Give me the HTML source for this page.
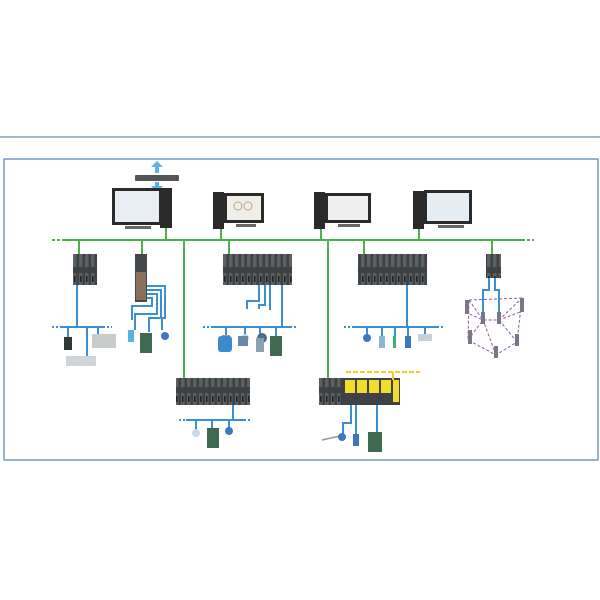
<!DOCTYPE html>
<html><head><meta charset="utf-8"><style>
html,body{margin:0;padding:0;background:#fff;width:600px;height:600px;overflow:hidden}
</style></head><body>
<svg width="600" height="600" viewBox="0 0 600 600" xmlns="http://www.w3.org/2000/svg">
<defs>
<pattern id="rk" width="6" height="30" patternUnits="userSpaceOnUse">
<rect width="6" height="30" fill="#3d4143"/><rect x="1" y="3" width="3.5" height="24" fill="#5b6062"/><rect x="2" y="6" width="1.5" height="6" fill="#222"/>
</pattern>
</defs>
<line x1="0" y1="137" x2="600" y2="137" stroke="#7aa3c8" stroke-width="1.5"/>
<rect x="4" y="159" width="594" height="301" fill="none" stroke="#4d7fb3" stroke-width="1.2"/>
<!-- green bus -->
<line x1="65" y1="240" x2="522" y2="240" stroke="#4cb050" stroke-width="2"/>
<line x1="52" y1="240" x2="65" y2="240" stroke="#4cb050" stroke-width="2" stroke-dasharray="3,2"/>
<line x1="522" y1="240" x2="534" y2="240" stroke="#4cb050" stroke-width="2" stroke-dasharray="3,2"/>
<g stroke="#4cb050" stroke-width="2">
<line x1="166" y1="228" x2="166" y2="240"/><line x1="221" y1="228" x2="221" y2="240"/>
<line x1="321" y1="228" x2="321" y2="240"/><line x1="419" y1="228" x2="419" y2="240"/>
<line x1="79" y1="240" x2="79" y2="255"/><line x1="142" y1="240" x2="142" y2="255"/>
<line x1="229" y1="240" x2="229" y2="255"/><line x1="364" y1="240" x2="364" y2="255"/>
<line x1="492" y1="240" x2="492" y2="255"/>
<line x1="184" y1="240" x2="184" y2="380"/><line x1="328" y1="240" x2="328" y2="380"/>
</g>
<!-- switch & arrows -->
<rect x="135" y="175" width="44" height="6" fill="#555" rx="1"/>
<path d="M157 161 l-6 6 h4 v6 h4 v-6 h4z" fill="#5ab4e6"/>
<path d="M157 192 l-6 -6 h4 v-4 h4 v4 h4z" fill="#5ab4e6"/>
<!-- PCs -->
<g>
<rect x="112" y="188" width="50" height="37" fill="#2b2b2b"/><rect x="115" y="191" width="44" height="31" fill="#e8eef4"/>
<rect x="160" y="188" width="12" height="40" fill="#2a2a2a"/><rect x="125" y="226" width="26" height="3" fill="#666"/>
</g>
<g>
<rect x="213" y="192" width="11" height="37" fill="#2a2a2a"/><rect x="224" y="193" width="40" height="30" fill="#2b2b2b"/><rect x="227" y="196" width="34" height="24" fill="#eef0e8"/>
<circle cx="238" cy="206" r="4" fill="none" stroke="#c99"/><circle cx="248" cy="206" r="4" fill="none" stroke="#c99"/><rect x="236" y="224" width="20" height="3" fill="#666"/>
</g>
<g>
<rect x="314" y="192" width="11" height="37" fill="#2a2a2a"/><rect x="325" y="193" width="46" height="30" fill="#2b2b2b"/><rect x="328" y="196" width="40" height="24" fill="#eef0f0"/>
<rect x="338" y="224" width="22" height="3" fill="#666"/>
</g>
<g>
<rect x="413" y="191" width="11" height="38" fill="#2a2a2a"/><rect x="424" y="190" width="48" height="34" fill="#2b2b2b"/><rect x="427" y="193" width="42" height="28" fill="#e6eef4"/>
<rect x="438" y="225" width="26" height="3" fill="#666"/>
</g>
<!-- racks -->
<rect x="73" y="254" width="24" height="31" fill="url(#rk)"/>
<rect x="135" y="254" width="12" height="48" fill="#44484a"/><rect x="136" y="272" width="10" height="28" fill="#8a6f5a"/>
<rect x="223" y="254" width="69" height="31" fill="url(#rk)"/>
<rect x="358" y="254" width="69" height="31" fill="url(#rk)"/>
<rect x="486" y="254" width="15" height="24" fill="url(#rk)"/>
<!-- blue lines -->
<g stroke="#3b8fd6" stroke-width="2" fill="none">
<line x1="77" y1="285" x2="77" y2="327"/>
<line x1="62" y1="327" x2="103" y2="327"/>
<line x1="68" y1="327" x2="68" y2="338"/><line x1="87" y1="327" x2="87" y2="358"/><line x1="98" y1="327" x2="98" y2="336"/>
<path d="M147 286 h18 v32 h-3 v12"/><path d="M147 290 h14 v28 h-12 v14"/><path d="M147 294 h10 v20 h-22 v16"/><path d="M147 298 h5 v8 h-20 v14"/>
<path d="M259 285 v16 h-12 v8"/><path d="M265 285 v20 h-6 v4"/><path d="M270 285 v25"/><path d="M282 285 v42"/>
<line x1="213" y1="327" x2="290" y2="327"/>
<line x1="226" y1="327" x2="226" y2="338"/><line x1="245" y1="327" x2="245" y2="335"/><line x1="260" y1="327" x2="260" y2="336"/><line x1="276" y1="327" x2="276" y2="336"/>
<line x1="407" y1="285" x2="407" y2="327"/>
<line x1="352" y1="327" x2="437" y2="327"/>
<line x1="367" y1="327" x2="367" y2="338"/><line x1="382" y1="327" x2="382" y2="340"/><line x1="395" y1="327" x2="395" y2="340"/><line x1="408" y1="327" x2="408" y2="338"/><line x1="425" y1="327" x2="425" y2="336"/>
<path d="M489 278 v12 h-6 v30"/><path d="M495 278 v12 h4 v30"/>
<line x1="233" y1="405" x2="233" y2="420"/>
<line x1="186" y1="420" x2="244" y2="420"/>
<line x1="196" y1="420" x2="196" y2="430"/><line x1="212" y1="420" x2="212" y2="430"/><line x1="229" y1="420" x2="229" y2="428"/>
<path d="M351 405 v18 h-8 v16"/><path d="M356 405 v30"/><path d="M377 405 v40"/>
</g>
<g stroke="#3b8fd6" stroke-width="2" stroke-dasharray="2,2">
<line x1="52" y1="327" x2="62" y2="327"/><line x1="103" y1="327" x2="112" y2="327"/>
<line x1="203" y1="327" x2="213" y2="327"/><line x1="290" y1="327" x2="298" y2="327"/>
<line x1="344" y1="327" x2="352" y2="327"/><line x1="437" y1="327" x2="444" y2="327"/>
<line x1="179" y1="420" x2="186" y2="420"/><line x1="244" y1="420" x2="250" y2="420"/>
</g>
<!-- wireless mesh -->
<g stroke="#8a5aa0" stroke-width="1" stroke-dasharray="3,2" fill="none">
<path d="M469 300 L522 298 L517 342 L496 355 L468 340 Z"/><path d="M469 300 L483 320 L499 320 L522 298"/><path d="M468 340 L483 320 M517 342 L499 320 M496 355 L483 320"/><path d="M465 312 L483 320 M520 312 L499 320"/>
</g>
<g fill="#778">
<rect x="465" y="300" width="4" height="14"/><rect x="520" y="298" width="4" height="14"/><rect x="481" y="312" width="4" height="12"/><rect x="497" y="312" width="4" height="12"/>
<rect x="468" y="330" width="4" height="14"/><rect x="515" y="334" width="4" height="12"/><rect x="494" y="346" width="4" height="12"/>
</g>
<!-- field devices -->
<rect x="64" y="337" width="8" height="13" fill="#2f3a36"/>
<rect x="92" y="334" width="24" height="14" fill="#c8cccc"/>
<rect x="66" y="356" width="30" height="10" fill="#d0d4d6"/>
<rect x="128" y="330" width="6" height="12" fill="#5ab0e0"/>
<rect x="140" y="333" width="12" height="20" fill="#3d6a50"/>
<circle cx="165" cy="336" r="4" fill="#3b78c0"/>
<rect x="222" y="335" width="8" height="8" fill="#c09050"/><circle cx="245" cy="338" r="4" fill="#c8d8e8"/><circle cx="262" cy="338" r="5" fill="#4a6d88"/>
<rect x="218" y="336" width="14" height="16" fill="#3a8ad0" rx="3"/><rect x="238" y="336" width="10" height="10" fill="#6a8aa8"/>
<rect x="256" y="338" width="8" height="14" fill="#8aa0b0"/><rect x="270" y="336" width="12" height="20" fill="#3d6a50"/>
<circle cx="367" cy="338" r="4" fill="#3b78c0"/><rect x="379" y="336" width="6" height="12" fill="#8ab8d0"/><rect x="393" y="336" width="3" height="12" fill="#40b070"/><rect x="405" y="336" width="6" height="12" fill="#3b78c0"/><rect x="418" y="334" width="14" height="7" fill="#c8d0da"/>
<!-- bottom racks -->
<rect x="176" y="378" width="74" height="27" fill="url(#rk)"/>
<rect x="319" y="378" width="24" height="27" fill="url(#rk)"/>
<rect x="343" y="378" width="57" height="27" fill="#3e4244"/>
<g fill="#f2dc2c"><rect x="345" y="380" width="10" height="13"/><rect x="357" y="380" width="10" height="13"/><rect x="369" y="380" width="10" height="13"/><rect x="381" y="380" width="10" height="13"/><rect x="393" y="380" width="6" height="22"/></g>
<line x1="346" y1="372" x2="420" y2="372" stroke="#f2cc2c" stroke-width="2" stroke-dasharray="5,2"/>
<line x1="393" y1="372" x2="393" y2="380" stroke="#f2cc2c" stroke-width="2"/>
<circle cx="196" cy="433" r="4" fill="#c8d8e8"/><rect x="207" y="428" width="12" height="20" fill="#3d6a50"/><circle cx="229" cy="431" r="4" fill="#3b78c0"/>
<line x1="322" y1="440" x2="340" y2="436" stroke="#998" stroke-width="1.5"/><circle cx="342" cy="437" r="4" fill="#3b78c0"/>
<rect x="353" y="434" width="6" height="12" fill="#3b78c0"/><rect x="368" y="432" width="14" height="20" fill="#3d6a50"/>
</svg>
</body></html>
